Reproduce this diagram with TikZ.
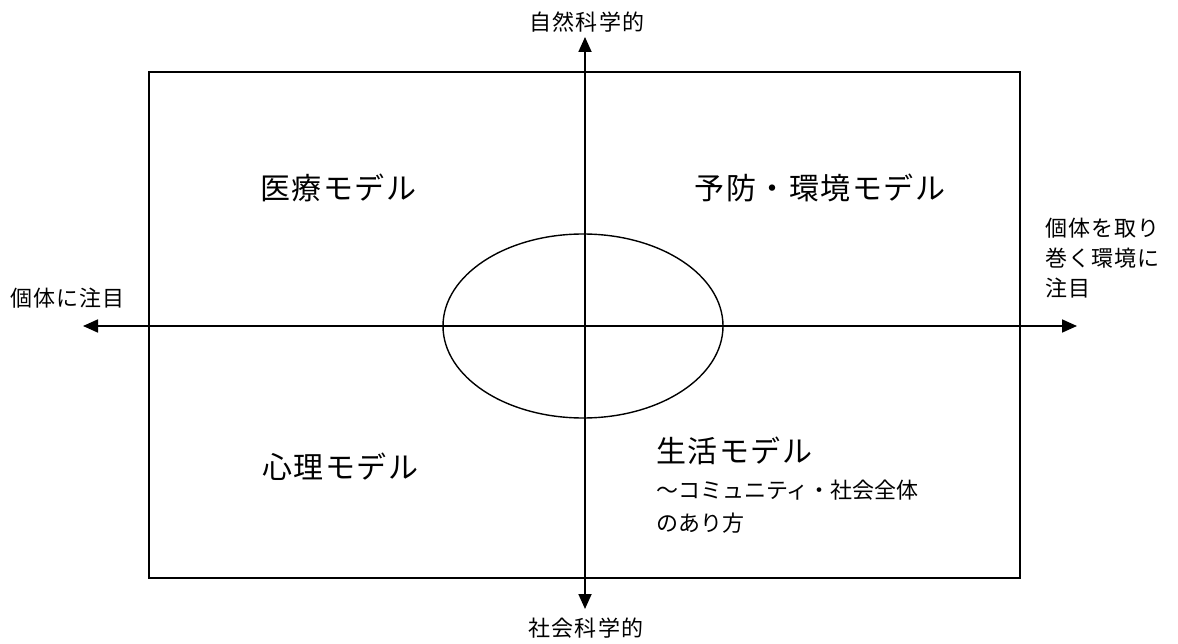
\documentclass[tikz,border=0pt]{standalone}
\usepackage{fontspec}
\setmainfont{Noto Sans CJK JP}
\newfontfamily\jpw[LetterSpace=5]{Noto Sans CJK JP}
\usetikzlibrary{arrows.meta,shapes.geometric}
\begin{document}
\begin{tikzpicture}[x=1pt,y=-1pt,
  axis/.style={line width=1.8pt,black,{Triangle[length=15pt,width=13pt]}-{Triangle[length=15pt,width=13pt]}},
  big/.style={font=\jpw\fontsize{30}{36}\selectfont,inner sep=0pt},
  mid/.style={font=\fontsize{22}{32.5}\selectfont,inner sep=0pt},
  small/.style={font=\jpw\fontsize{22}{30}\selectfont,inner sep=0pt}]
\useasboundingbox (0,0) rectangle (1178,644);
\fill[white] (0,0) rectangle (1178,644);
\node[draw,line width=1.8pt,minimum width=871pt,minimum height=506pt,inner sep=0pt] (frame) at (584.5,325) {};
\node[draw,ellipse,line width=1.4pt,minimum width=280pt,minimum height=184pt,inner sep=0pt] (ell) at (583,326) {};
\coordinate (top) at (585,37);
\coordinate (bot) at (585,609);
\coordinate (left) at (83,326);
\coordinate (right) at (1077,326);
\draw[axis] (bot) -- (top);
\draw[axis] (left) -- (right);
\node[small] (ntop) at (587,22) {自然科学的};
\node[small] (nbot) at (586,628) {社会科学的};
\node[small,anchor=west] (nleft) at (10,298) {個体に注目};
\node[small,anchor=north west,align=left] (nright) at (1045,218) {個体を取り\\巻く環境に\\注目};
\node[big] (med) at (338,188) {医療モデル};
\node[big] (prev) at (820,188) {予防・環境モデル};
\node[big] (psy) at (340,467) {心理モデル};
\node[big,anchor=west] (life) at (656,451) {生活モデル};
\node[mid,anchor=north west,align=left] (lifesub) at (656,480) {～コミュニティ・社会全体\\のあり方};
\end{tikzpicture}
\end{document}
